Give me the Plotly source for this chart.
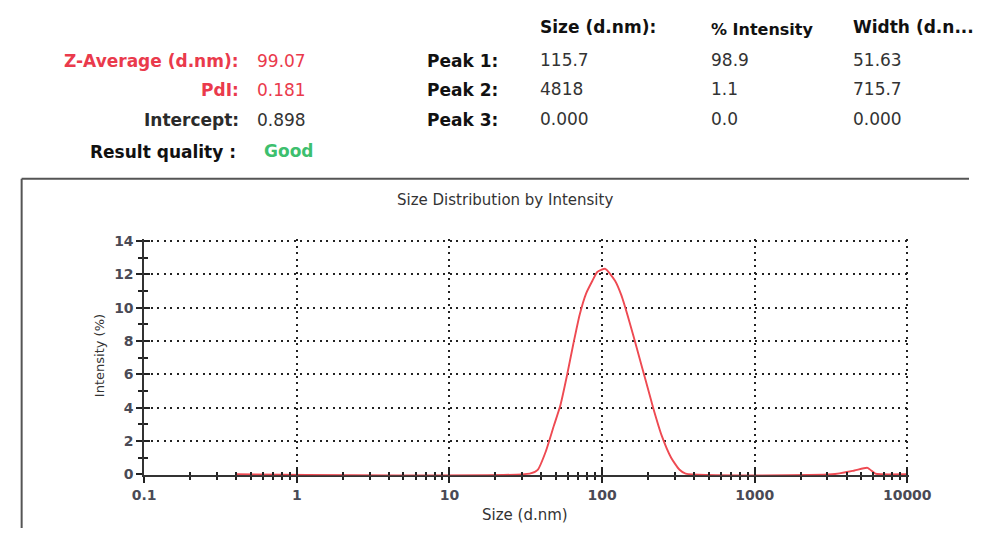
import plotly.graph_objects as go

# ---- data ----
size_nm = [0.4, 33.6, 37.9, 42.8, 48.4, 53.2, 58.7, 64.8, 71.3, 78.5, 86.5, 93.1, 105,
           121.7, 134, 151, 170.8, 192.9, 217.6, 245.7, 284.3, 320.9, 353,
           3214, 4508, 5483, 6180, 6700, 10000]
intensity_pct = [0, 0.04, 0.27, 1.37, 2.93, 4.1, 5.86, 7.81, 9.57, 10.84, 11.62, 12.15, 12.34,
                 11.62, 10.74, 9.18, 7.42, 5.66, 3.91, 2.34, 0.98, 0.29, 0.04,
                 0, 0.23, 0.39, 0.04, 0, 0]

x_ticks = [0.1, 1, 10, 100, 1000, 10000]
x_tick_labels = ["0.1", "1", "10", "100", "1000", "10000"]
x_minor = [m * 10 ** e for e in range(-1, 4) for m in range(2, 10)]
y_ticks = [0, 2, 4, 6, 8, 10, 12, 14]
y_minor = [1, 3, 5, 7, 9, 11, 13]

left_labels = ["Z-Average (d.nm):", "PdI:", "Intercept:", "Result quality :"]
left_values = ["99.07", "0.181", "0.898", "Good"]
peak_labels = ["Peak 1:", "Peak 2:", "Peak 3:"]
col_headers = ["Size (d.nm):", "% Intensity", "Width (d.n..."]
peak_size = ["115.7", "4818", "0.000"]
peak_int = ["98.9", "1.1", "0.0"]
peak_width = ["51.63", "715.7", "0.000"]

W, H = 992, 535
def px(x): return x / W
def py(y): return 1 - y / H

FONT = "DejaVu Sans"
RED = "#ea3a4c"
DARK = "#2b2b2b"

fig = go.Figure()
fig.add_trace(go.Scatter(x=size_nm, y=intensity_pct, mode="lines",
                         line=dict(color="#ee4a52", width=1.9, shape="spline", smoothing=0.5),
                         hoverinfo="x+y", showlegend=False))
fig.add_trace(go.Scatter(x=[], y=[], xaxis="x2", yaxis="y2", showlegend=False))

XR = [-1, 4.012]
YR = [-0.06, 14.1]
xd = [px(137), px(929.9)]
yd = [py(481), py(239.3)]
grid = dict(showgrid=True, gridcolor="#222", gridwidth=2, griddash="2px,4.5px")
tickfont = dict(family=FONT, size=14, color="#4a4a55", weight="bold")

fig.update_layout(
    width=W, height=H, margin=dict(l=0, r=0, t=0, b=0),
    paper_bgcolor="white", plot_bgcolor="white",
    xaxis=dict(type="log", range=XR, domain=xd, anchor="y",
               tickmode="array", tickvals=x_ticks, ticktext=x_tick_labels,
               ticks="outside", ticklen=6, tickwidth=2, tickcolor="#222",
               minor=dict(tickmode="array", tickvals=x_minor, ticks="outside",
                          ticklen=3, tickwidth=2, tickcolor="#222"),
               showline=True, linecolor="#333", linewidth=1.5,
               zeroline=False, layer="below traces",
               tickfont=tickfont, **grid),
    yaxis=dict(range=YR, domain=yd, anchor="x",
               tickmode="array", tickvals=y_ticks,
               ticks="outside", ticklen=6, tickwidth=2, tickcolor="#222",
               minor=dict(tickmode="array", tickvals=y_minor, ticks="outside",
                          ticklen=4, tickwidth=2, tickcolor="#222"),
               showline=True, linecolor="#333", linewidth=1.5,
               zeroline=False, layer="below traces",
               tickfont=tickfont, **grid),
    xaxis2=dict(type="log", range=XR, domain=xd, anchor="y2", overlaying="x",
                tickmode="array", tickvals=x_ticks, showticklabels=False,
                ticks="inside", ticklen=6, tickwidth=2, tickcolor="#222",
                minor=dict(tickmode="array", tickvals=x_minor, ticks="inside",
                           ticklen=3, tickwidth=2, tickcolor="#222"),
                showgrid=False, zeroline=False, showline=False),
    yaxis2=dict(range=YR, domain=yd, anchor="x2", overlaying="y",
                tickmode="array", tickvals=y_ticks, showticklabels=False,
                ticks="inside", ticklen=6, tickwidth=2, tickcolor="#222",
                minor=dict(tickmode="array", tickvals=y_minor, ticks="inside",
                           ticklen=4, tickwidth=2, tickcolor="#222"),
                showgrid=False, zeroline=False, showline=False),
)

# frame around the graph (left and top edges; right/bottom run off the page)
fig.add_shape(type="line", xref="paper", yref="paper",
              x0=px(10), x1=px(10), y0=0, y1=py(177), line=dict(color="#555", width=2))
fig.add_shape(type="line", xref="paper", yref="paper",
              x0=px(10), x1=1, y0=py(177), y1=py(177), line=dict(color="#555", width=2))

ann = []
def T(text, x, y, color=DARK, size=17, bold=True, xanchor="left"):
    t = f"<b>{text}</b>" if bold else text
    ann.append(dict(text=t, x=px(x), y=py(y), xref="paper", yref="paper",
                    xanchor=xanchor, yanchor="middle", showarrow=False,
                    font=dict(family=FONT, size=size, color=color)))

rows_y = [56, 86, 117, 150]
label_colors = [RED, RED, DARK, "#111"]
value_colors = [RED, RED, "#333", "#3dbf6e"]
for i, (lab, val) in enumerate(zip(left_labels, left_values)):
    T(lab, 237 if i < 3 else 234, rows_y[i], color=label_colors[i], xanchor="right")
    T(val, 252 if i < 3 else 259, rows_y[i] - (1 if i == 3 else 0), color=value_colors[i],
      bold=(i == 3))

for i, lab in enumerate(peak_labels):
    T(lab, 428, rows_y[i], color="#111")
    T(peak_size[i], 545, rows_y[i] - 1, color="#333", bold=False)
    T(peak_int[i], 722, rows_y[i] - 1, color="#333", bold=False)
    T(peak_width[i], 870, rows_y[i] - 1, color="#333", bold=False)

T(col_headers[0], 545, 22, color="#111")
T(col_headers[1], 722, 24, color="#111", size=16)
T(col_headers[2], 870, 22, color="#111")

# chart title and axis titles
T("Size Distribution by Intensity", 511, 199, color="#333", size=15, bold=False, xanchor="center")
T("Size (d.nm)", 532, 522, color="#333", size=15, bold=False, xanchor="center")
ann.append(dict(text="Intensity (%)", x=px(90), y=py(358), xref="paper", yref="paper",
                xanchor="center", yanchor="middle", showarrow=False, textangle=-90,
                font=dict(family=FONT, size=13, color="#333")))

fig.update_layout(annotations=ann)
fig.write_html("out.html",
               post_script="document.body.style.margin='0';"
                           "document.body.style.overflow='hidden';"
                           "document.documentElement.style.overflow='hidden';")
